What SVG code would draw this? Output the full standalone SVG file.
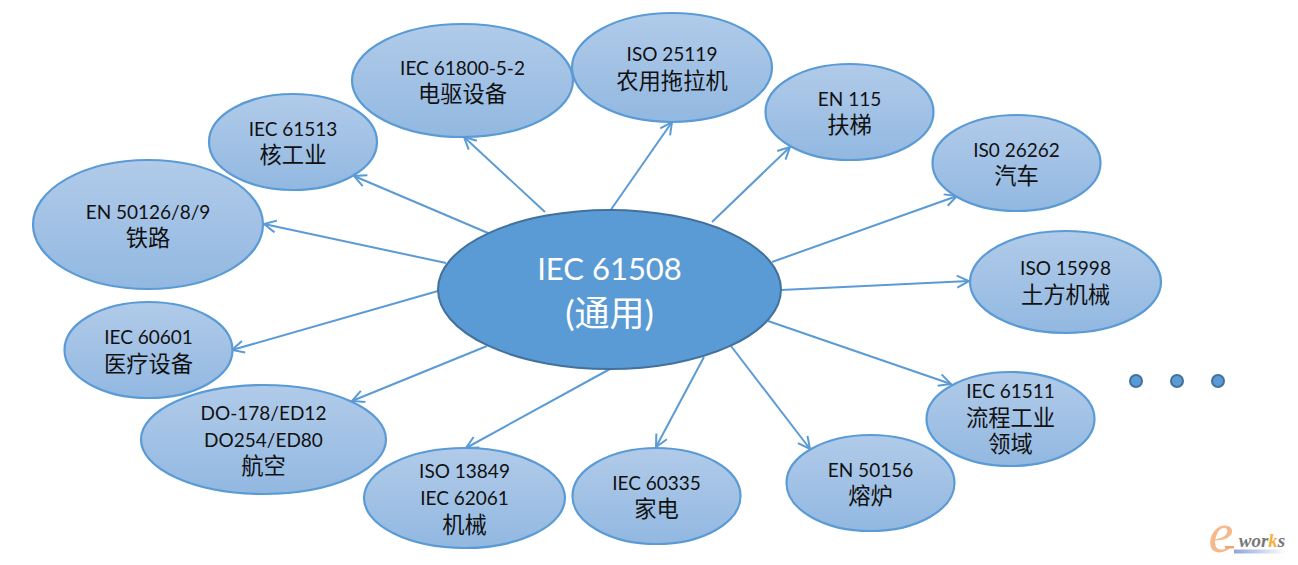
<svg xmlns="http://www.w3.org/2000/svg" width="1298" height="565" viewBox="0 0 1298 565">
<defs>
<linearGradient id="g" x1="0" y1="0" x2="0" y2="1"><stop offset="0" stop-color="#b1cbe9"/><stop offset="1" stop-color="#92b8e1"/></linearGradient>
<linearGradient id="bar" x1="0" y1="0" x2="1" y2="0"><stop offset="0" stop-color="#8fa6d8"/><stop offset="1" stop-color="#ffffff"/></linearGradient>
<marker id="a" markerUnits="userSpaceOnUse" markerWidth="16" markerHeight="16" refX="13" refY="7" orient="auto"><path d="M1 1L13 7L1 13" fill="none" stroke="#5b9bd5" stroke-width="2"/></marker>
</defs>
<style>
text{font-family:"Lato","Noto Sans CJK SC",sans-serif;font-size:19px;fill:#111;text-anchor:middle}
text.c{font-size:22.3px}
#center text{font-size:31px;fill:#fff}
#center text.c{font-size:35px}
.n ellipse{fill:url(#g);stroke:#5b9bd5;stroke-width:2.2}
#connectors line{stroke:#5b9bd5;stroke-width:2;marker-end:url(#a)}
.d{fill:#5b9bd5;stroke:#41719c;stroke-width:2}
</style>
<rect width="1298" height="565" fill="#fff"/>
<g id="connectors">
<line x1="488" y1="233" x2="354" y2="176"/>
<line x1="446" y1="263" x2="264" y2="224"/>
<line x1="438" y1="291" x2="232" y2="350"/>
<line x1="487" y1="346" x2="352" y2="401"/>
<line x1="610" y1="369" x2="466" y2="448"/>
<line x1="704" y1="357" x2="656" y2="447"/>
<line x1="731" y1="346" x2="810" y2="449"/>
<line x1="768" y1="321" x2="951" y2="384"/>
<line x1="781" y1="290" x2="969" y2="281"/>
<line x1="772" y1="262" x2="957" y2="196"/>
<line x1="712" y1="222" x2="790" y2="147"/>
<line x1="610" y1="211" x2="672" y2="122"/>
<line x1="545" y1="212" x2="464" y2="137"/>
</g>
<g id="center"><ellipse cx="609.5" cy="289.5" rx="171.5" ry="79.5" fill="#5b9bd5" stroke="#41719c" stroke-width="2"/>
<text x="609.5" y="280">IEC 61508</text><text class="c" x="609.5" y="326">(通用)</text></g>
<g id="n1" class="n"><ellipse cx="148" cy="224.5" rx="115" ry="64.500"/><text x="148" y="219">EN 50126/8/9</text><text class="c" x="148" y="246">铁路</text></g>
<g id="n2" class="n"><ellipse cx="293" cy="142" rx="84" ry="48"/><text x="293" y="136">IEC 61513</text><text class="c" x="293" y="163">核工业</text></g>
<g id="n3" class="n"><ellipse cx="462.5" cy="80.5" rx="110.5" ry="56.5"/><text x="462.5" y="75">IEC 61800-5-2</text><text class="c" x="462.5" y="102">电驱设备</text></g>
<g id="n4" class="n"><ellipse cx="672" cy="67.5" rx="100" ry="54.5"/><text x="672" y="61">ISO 25119</text><text class="c" x="672" y="89">农用拖拉机</text></g>
<g id="n5" class="n"><ellipse cx="849.5" cy="112" rx="84" ry="48"/><text x="849.5" y="106">EN 115</text><text class="c" x="849.5" y="133">扶梯</text></g>
<g id="n6" class="n"><ellipse cx="1016.5" cy="163" rx="84" ry="48"/><text x="1016.5" y="157">IS0 26262</text><text class="c" x="1016.5" y="184">汽车</text></g>
<g id="n7" class="n"><ellipse cx="1065.5" cy="282" rx="95.5" ry="51"/><text x="1065.5" y="275">ISO 15998</text><text class="c" x="1065.5" y="303">土方机械</text></g>
<g id="n8" class="n"><ellipse cx="1010.5" cy="419" rx="84" ry="47"/><text x="1010.5" y="398">IEC 61511</text><text class="c" x="1010.5" y="426">流程工业</text><text class="c" x="1010.5" y="452">领域</text></g>
<g id="n9" class="n"><ellipse cx="870.5" cy="483" rx="84" ry="48"/><text x="870.5" y="477">EN 50156</text><text class="c" x="870.5" y="504">熔炉</text></g>
<g id="n10" class="n"><ellipse cx="656.5" cy="496" rx="84" ry="48"/><text x="656.5" y="490">IEC 60335</text><text class="c" x="656.5" y="517">家电</text></g>
<g id="n11" class="n"><ellipse cx="464.5" cy="498" rx="100.5" ry="50"/><text x="464.5" y="478">ISO 13849</text><text x="464.5" y="505">IEC 62061</text><text class="c" x="464.5" y="533">机械</text></g>
<g id="n12" class="n"><ellipse cx="263.5" cy="439.5" rx="122.5" ry="54.5"/><text x="263.5" y="420">DO-178/ED12</text><text x="263.5" y="447">DO254/ED80</text><text class="c" x="263.5" y="474">航空</text></g>
<g id="n13" class="n"><ellipse cx="148.5" cy="350" rx="84" ry="48"/><text x="148.5" y="344">IEC 60601</text><text class="c" x="148.5" y="372">医疗设备</text></g>
<circle class="d" cx="1136" cy="381" r="6"/><circle class="d" cx="1177" cy="381" r="6"/><circle class="d" cx="1218" cy="381" r="6"/>
<g id="logo">
<text x="1221" y="552" style="font:italic 56px 'Liberation Serif',serif;fill:#f6b98c">e</text>
<rect x="1225" y="546" width="9" height="2.500" fill="#f4a56c"/>
<rect x="1234" y="549.5" width="52" height="4" fill="url(#bar)"/>
<text x="1262" y="547" style="font:italic bold 19px 'Liberation Serif',serif;fill:#777">wor<tspan fill="#f5b041">k</tspan>s</text>
</g>
</svg>
